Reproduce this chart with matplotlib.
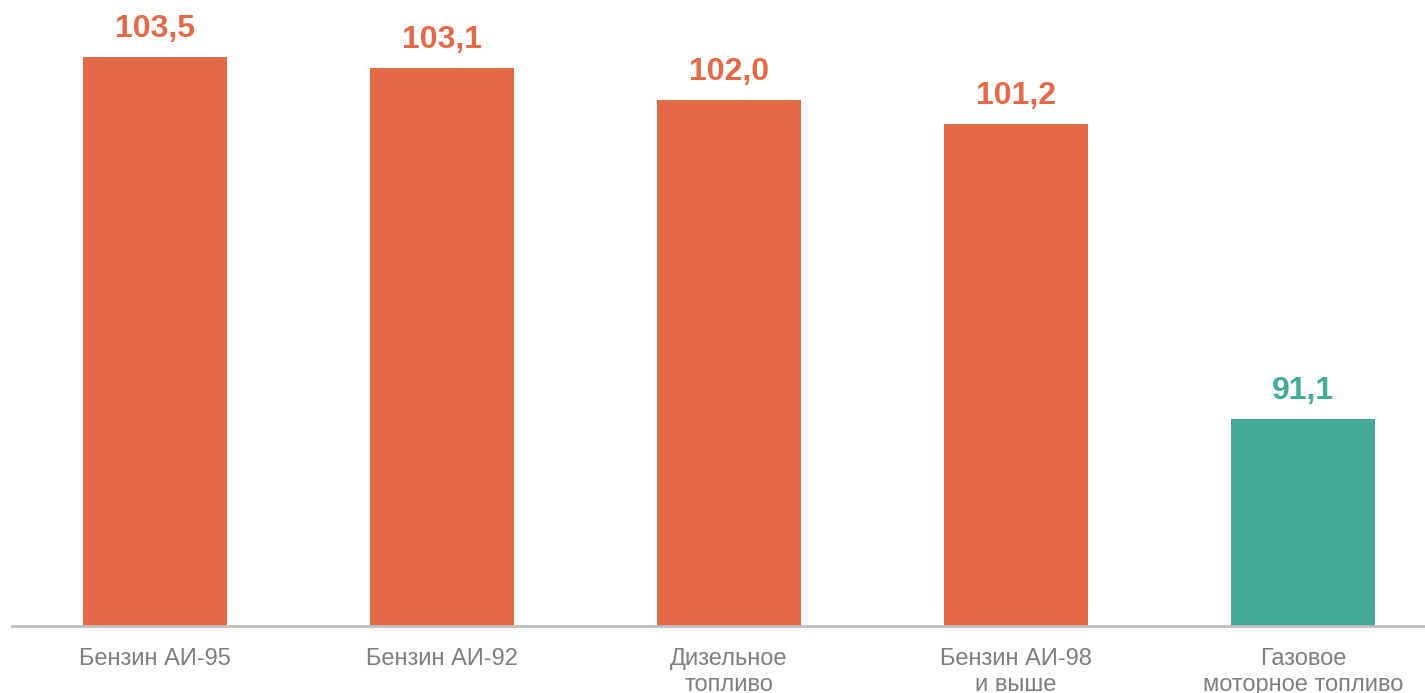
import matplotlib.pyplot as plt

plt.rcParams['font.family'] = ['Liberation Sans', 'DejaVu Sans']

categorias = ['Бензин АИ-95', 'Бензин АИ-92', 'Дизельное\nтопливо', 'Бензин АИ-98\nи выше', 'Газовое\nмоторное топливо']
valores = [103.5, 103.1, 102.0, 101.2, 91.1]
etiquetas = ['103,5', '103,1', '102,0', '101,2', '91,1']
colores = ['#E36947', '#E36947', '#E36947', '#E36947', '#45AA98']

fig = plt.figure(figsize=(14.25, 6.93), dpi=100)
ax = fig.add_axes([12 / 1425, 67 / 693, 1 - 12 / 1425, 626 / 693])

x = range(len(valores))
ax.bar(x, [v - 84 for v in valores], bottom=84, width=0.5, color=colores)

for i, v in enumerate(valores):
    ax.text(i, v + 0.45, etiquetas[i], ha='center', va='bottom',
            fontsize=23, fontweight='bold', color=colores[i])

ax.set_xlim(-0.498, 4.425)
ax.set_ylim(84, 105.44)
ax.set_xticks(list(x))
ax.set_xticklabels(categorias, fontsize=17, color='#7F7F7F', linespacing=1.2)
ax.tick_params(axis='x', length=0, pad=16)
ax.set_yticks([])
for s in ['top', 'right', 'left']:
    ax.spines[s].set_visible(False)
ax.spines['bottom'].set_color('#BFBFBF')
ax.spines['bottom'].set_linewidth(2)

fig.savefig('out.png', dpi=100)
